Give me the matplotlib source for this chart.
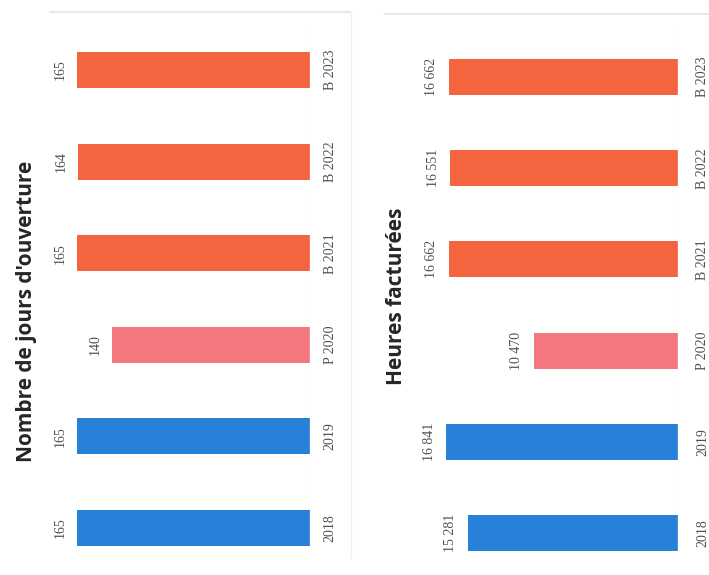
import matplotlib
matplotlib.use("Agg")
import matplotlib.pyplot as plt

# Data
categories = ["2018", "2019", "P 2020", "B 2021", "B 2022", "B 2023"]
jours_ouverture = [165, 165, 140, 165, 164, 165]
heures_facturees = [15281, 16841, 10470, 16662, 16551, 16662]
titles = ["Nombre de jours d'ouverture", "Heures facturées"]

BLUE = "#2781d8"
PINK = "#f4777e"
ORANGE = "#f4643e"
bar_colors = [BLUE, BLUE, PINK, ORANGE, ORANGE, ORANGE]

W, H = 709, 575
fig = plt.figure(figsize=(W / 100, H / 100), dpi=100)
fig.patch.set_facecolor("white")


def fmt(v):
    return f"{v:,}".replace(",", " ")


def panel(left_px, base_px, xmax, center0_px, step_px, values, cat_x_px, title, title_x_px, title_y_px):
    ax = fig.add_axes([left_px / W, 0, (base_px - left_px) / W, 1])
    lo = -center0_px / step_px
    hi = (H - center0_px) / step_px
    ax.set_ylim(lo, hi)
    ax.set_xlim(xmax, 0)
    y = list(range(len(categories)))
    ax.barh(y, values, height=36 / step_px, color=bar_colors, edgecolor="none")
    for yi, v in zip(y, values):
        ax.annotate(fmt(v), xy=(v, yi), xytext=(-17, 0), textcoords="offset pixels",
                    rotation=90, ha="center", va="center",
                    fontsize=10, family="Liberation Serif", color="#505050")
    for yi, c in zip(y, categories):
        fig.text(cat_x_px / W, (center0_px + yi * step_px) / H, c, rotation=90,
                 ha="center", va="center", fontsize=10, family="Liberation Serif",
                 color="#505050")
    ax.axis("off")
    # light baseline
    ax.axvline(0, ymin=0.04, ymax=0.95, color="#e6e6e6", lw=1)
    fig.text(title_x_px / W, title_y_px / H, title, rotation=90, ha="center", va="center",
             fontsize=15, family="Open Sans", weight="bold", color="#262626")
    return ax


panel(40, 310, 270 / 1.413, 575 - 528, 91.6, jours_ouverture, 330,
      titles[0], 27, 575 - 311)
panel(420, 678, 258 / 0.01376, 575 - 533, 91.2, heures_facturees, 703,
      titles[1], 396, 575 - 296)

# faint page frame lines
fig.add_artist(plt.Line2D([50 / W, 350 / W], [1 - 12 / H, 1 - 12 / H], color="#e8e8e8", lw=1.5))
fig.add_artist(plt.Line2D([385 / W, 1.0], [1 - 14 / H, 1 - 14 / H], color="#e8e8e8", lw=1.5))
fig.add_artist(plt.Line2D([351 / W, 351 / W], [0.03, 1 - 12 / H], color="#f0f0f0", lw=1))

fig.savefig("out.png", dpi=100, facecolor="white")
